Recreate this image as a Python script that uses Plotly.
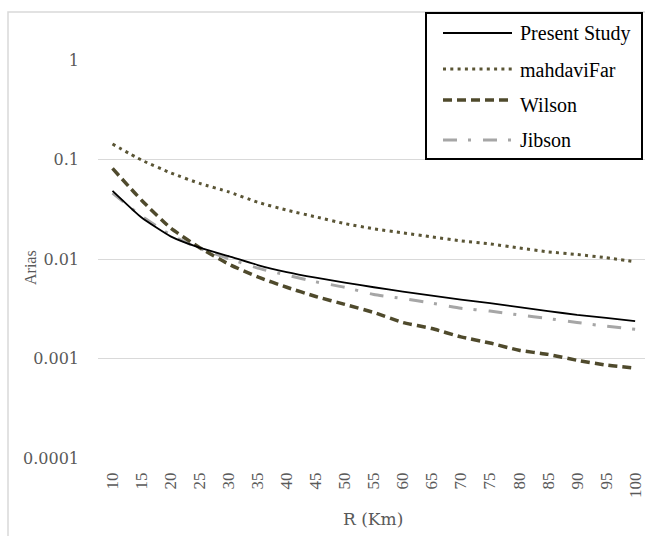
import plotly.graph_objects as go

# Distance categories (km)
distance_km = [10, 15, 20, 25, 30, 35, 40, 45, 50, 55, 60, 65, 70, 75, 80, 85, 90, 95, 100]
categories = [str(d) for d in distance_km]

# Arias intensity predicted by each relation
present_study = [0.0484, 0.0261, 0.0169, 0.0130, 0.0107, 0.0087, 0.0074, 0.0065, 0.0058, 0.0052,
                 0.0047, 0.00428, 0.0039, 0.0036, 0.00328, 0.0030, 0.00274, 0.00256, 0.00237]
mahdavifar = [0.143, 0.0986, 0.0735, 0.0575, 0.0473, 0.0372, 0.0310, 0.0265, 0.0227, 0.0201,
              0.0183, 0.0167, 0.0152, 0.0142, 0.0129, 0.0118, 0.0111, 0.0103, 0.0094]
wilson = [0.0813, 0.0390, 0.0205, 0.0130, 0.0089, 0.0066, 0.0052, 0.0042, 0.0035, 0.0029,
          0.0023, 0.0020, 0.00165, 0.00143, 0.00121, 0.0011, 0.00096, 0.00086, 0.00080]
jibson = [0.0460, 0.0270, 0.0175, 0.0128, 0.0101, 0.0081, 0.0069, 0.0059, 0.0052, 0.0044,
          0.0040, 0.0036, 0.0032, 0.0030, 0.00274, 0.00252, 0.0023, 0.00211, 0.00197]

y_ticks = [0.0001, 0.001, 0.01, 0.1, 1]
y_tick_text = ["0.0001", "0.001", "0.01", "0.1", "1"]

serif = "Liberation Serif, Times New Roman, serif"
wide_serif = "DejaVu Serif, serif"
axis_grey = "#595959"

# Page geometry of the plotting area (px) used to place the boxed key
W, H = 645, 536
L, T, B = 98, 60, 78
plot_w, plot_h = W - L, H - T - B


def px_x(px):
    return (px - L) / plot_w


def px_y(py):
    return (H - B - py) / plot_h


fig = go.Figure()

# name, values, line style, key row (line y, text y)
series = [
    ("Jibson", jibson, dict(color="#a6a6a6", width=3, dash="14px,11px,3px,12px"), (140, 140)),
    ("Wilson", wilson, dict(color="#4f4a2c", width=3.5, dash="9px,5px"), (100, 105)),
    ("mahdaviFar", mahdavifar, dict(color="#5a5535", width=3, dash="3px,4.3px"), (69, 70)),
    ("Present Study", present_study, dict(color="#000000", width=1.8), (33, 33)),
]
for name, values, line, _ in series:
    fig.add_trace(go.Scatter(
        x=categories, y=values, name=name, mode="lines",
        line=dict(shape="spline", smoothing=0.5, **line),
        showlegend=False,
    ))

# Light outer chart frame
fig.add_shape(type="rect", xref="paper", yref="paper",
              x0=px_x(8), x1=px_x(700), y0=px_y(600), y1=px_y(12),
              line=dict(color="#d9d9d9", width=1.5), layer="below")

# Boxed key in the upper right corner
fig.add_shape(type="rect", xref="paper", yref="paper",
              x0=px_x(426), x1=px_x(642), y0=px_y(159), y1=px_y(13),
              line=dict(color="black", width=2), fillcolor="white", layer="above")
for name, values, line, (line_y, text_y) in series:
    fig.add_shape(type="line", xref="paper", yref="paper",
                  x0=px_x(443), x1=px_x(512), y0=px_y(line_y), y1=px_y(line_y),
                  line=line, layer="above")
    fig.add_annotation(text=name, xref="paper", yref="paper",
                       x=px_x(518), y=px_y(text_y), xanchor="left", yanchor="middle",
                       showarrow=False, font=dict(family=serif, size=20, color="black"))

fig.add_annotation(text="Arias", xref="paper", yref="paper",
                   x=px_x(30), y=px_y(268), xanchor="center", yanchor="middle",
                   textangle=-90, showarrow=False,
                   font=dict(family=serif, size=16, color=axis_grey))
fig.add_annotation(text="R (Km)", xref="paper", yref="paper",
                   x=px_x(373), y=px_y(519), xanchor="center", yanchor="middle",
                   showarrow=False,
                   font=dict(family=wide_serif, size=17, color=axis_grey))

fig.update_layout(
    width=W, height=H,
    margin=dict(l=L, r=0, t=T, b=B),
    paper_bgcolor="white", plot_bgcolor="white",
    font=dict(family=serif, color=axis_grey),
    showlegend=False,
    xaxis=dict(
        type="category", range=[-0.5, 18.34],
        tickangle=-90, tickfont=dict(family=serif, size=17, color=axis_grey),
        showgrid=False, zeroline=False, showline=False, ticks="",
        ticklabelstandoff=10,
    ),
    yaxis=dict(
        type="log", range=[-4, 0],
        tickvals=y_ticks, ticktext=y_tick_text,
        tickfont=dict(family=wide_serif, size=16, color=axis_grey),
        showgrid=True, gridcolor="#d9d9d9", gridwidth=1,
        zeroline=False, showline=False, ticks="", ticklabelstandoff=18,
    ),
)

fig.write_html("out.html")
